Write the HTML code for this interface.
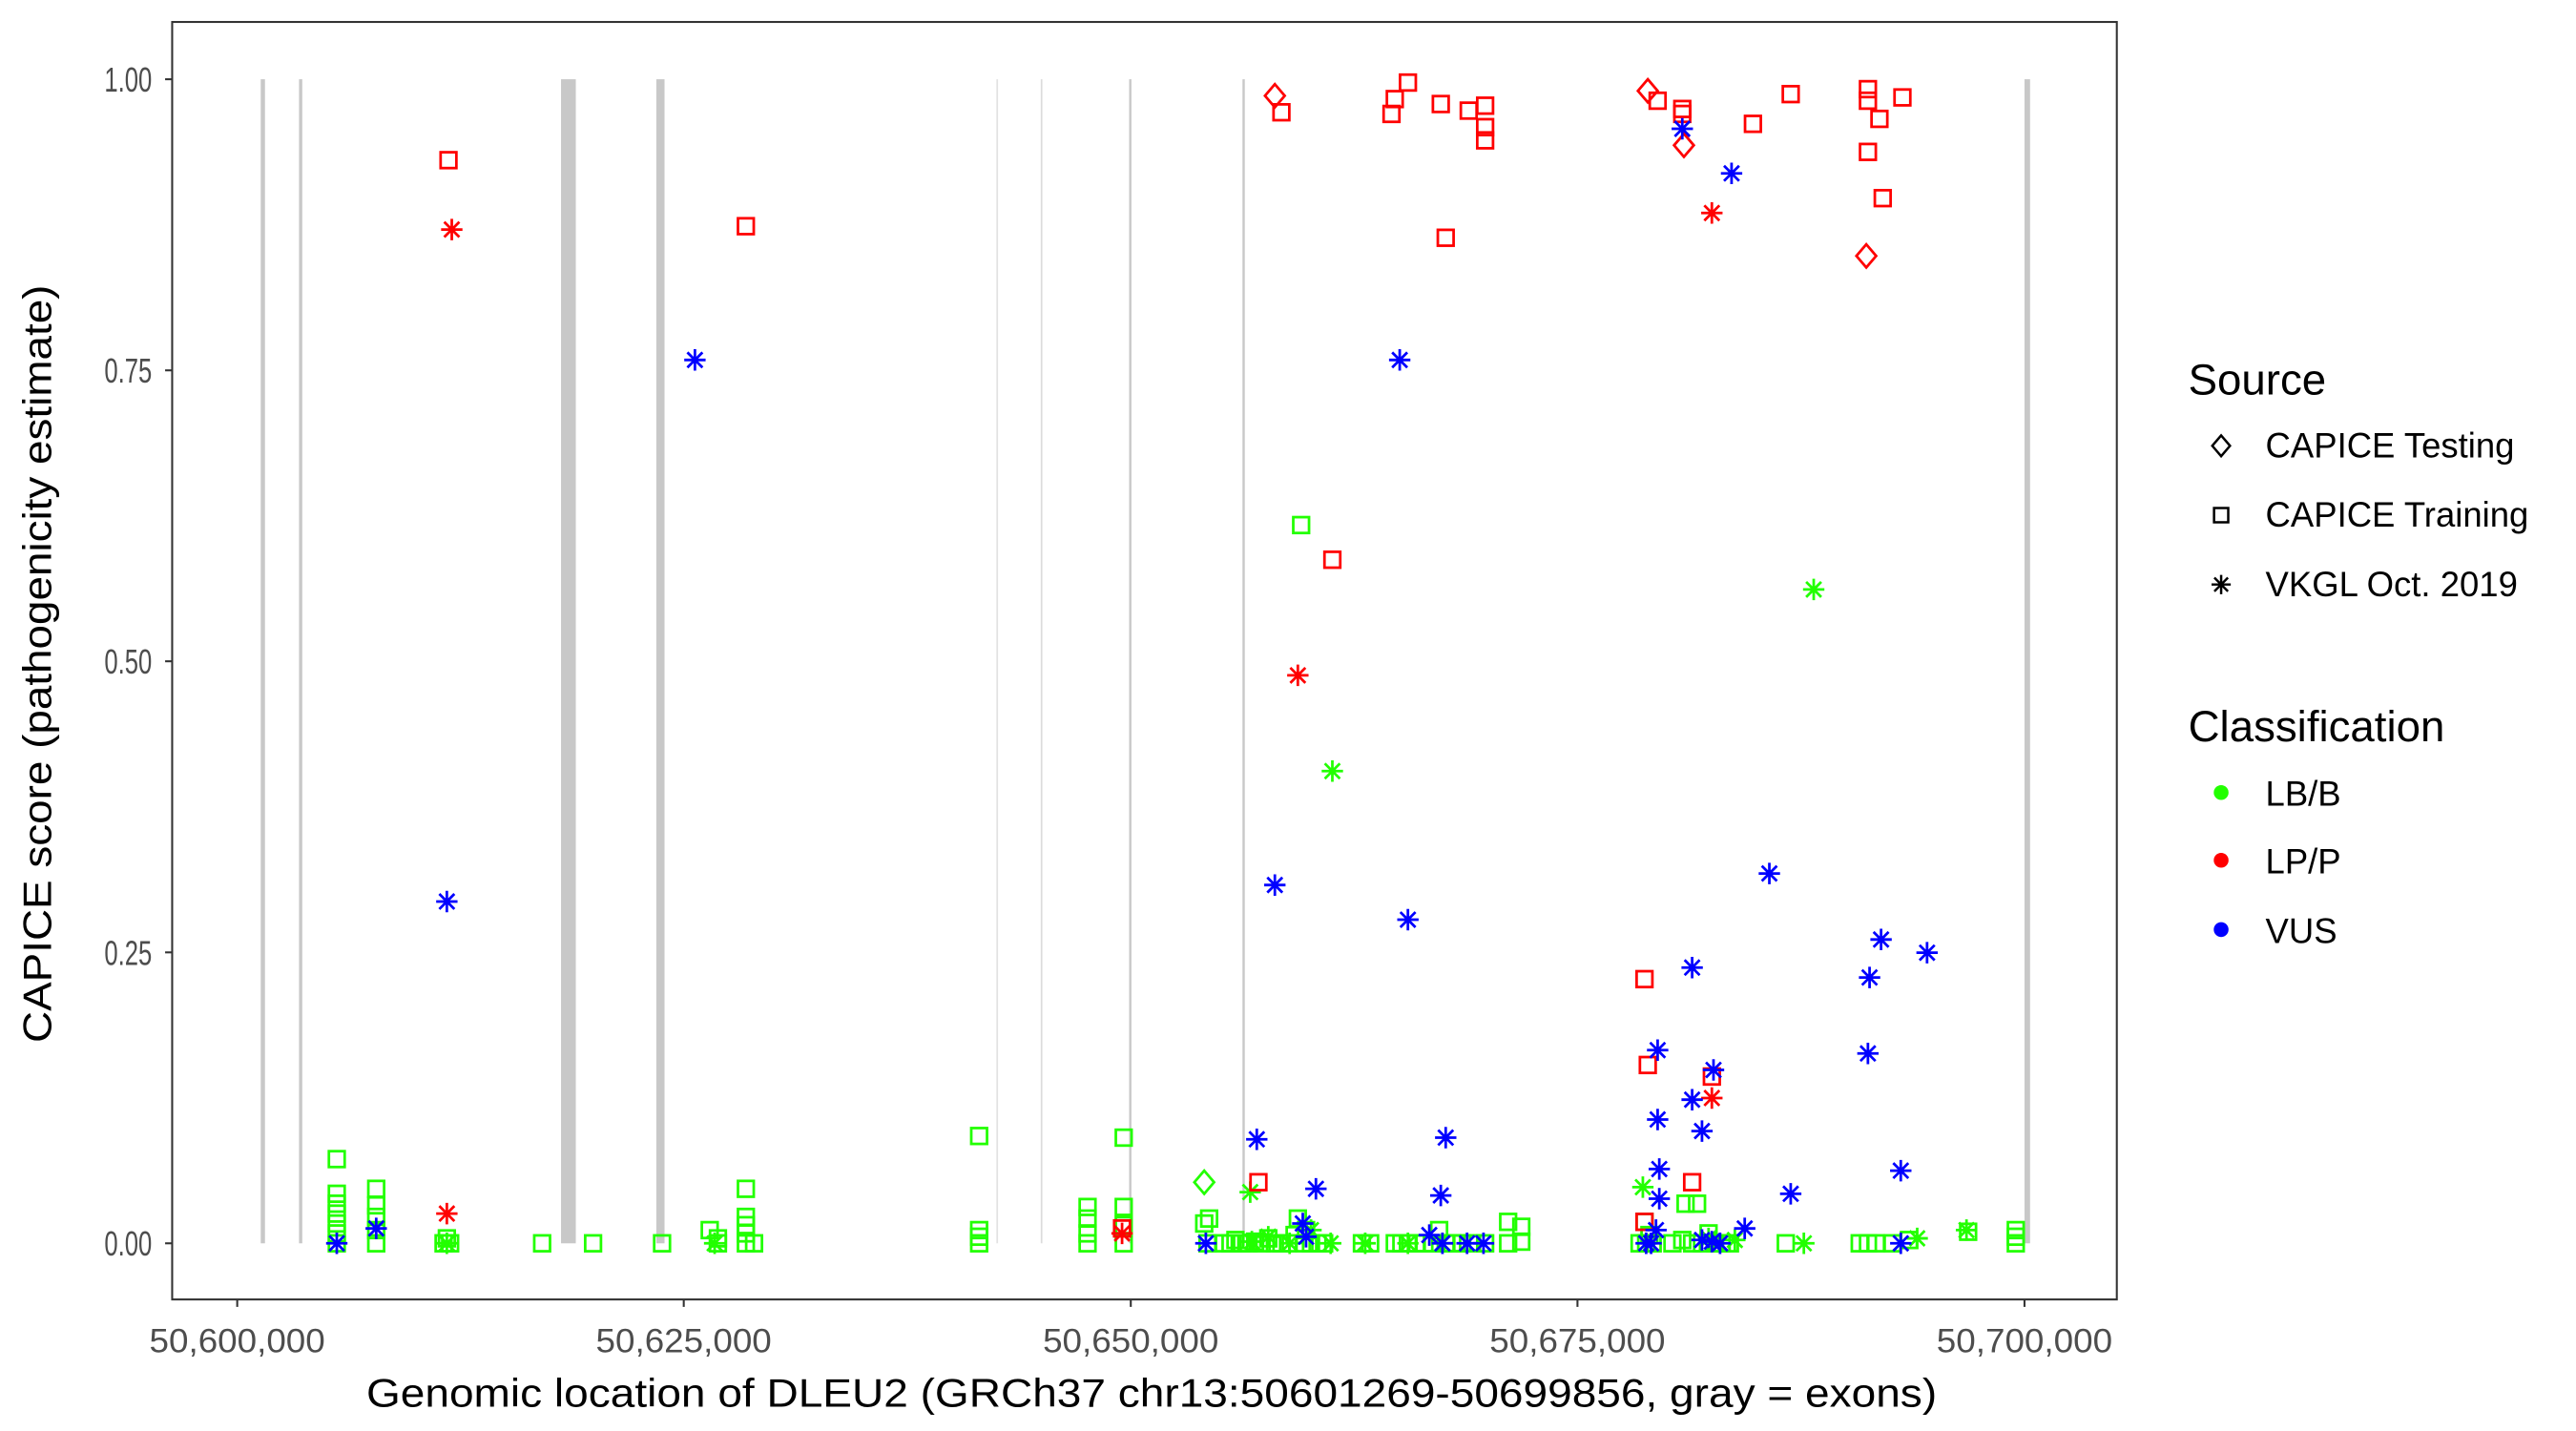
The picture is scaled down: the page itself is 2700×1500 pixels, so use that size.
<!DOCTYPE html>
<html><head><meta charset="utf-8"><style>
html,body{margin:0;padding:0;background:#fff;}
svg{display:block;}
text{font-family:"Liberation Sans",Arial,sans-serif;}
</style></head><body>
<svg width="2700" height="1500" viewBox="0 0 1568 866.67" preserveAspectRatio="none" xmlns="http://www.w3.org/2000/svg">
<defs>
<rect id="sq" x="-4.8" y="-4.8" width="9.6" height="9.6" fill="none" stroke-width="1.6"/>
<path id="as" d="M0,-6.5V6.5M-6.5,0H6.5M-4.6,-4.6L4.6,4.6M-4.6,4.6L4.6,-4.6" fill="none" stroke-width="1.6"/>
<path id="dm" d="M0,-7L6,0L0,7L-6,0Z" fill="none" stroke-width="1.6"/>
</defs>
<rect width="1568" height="867" fill="#fff"/>
<!-- exons -->
<g fill="#c8c8c8">
<rect x="158.7" y="48" width="2.6" height="705"/>
<rect x="182" y="48" width="2" height="705"/>
<rect x="341.5" y="48" width="9" height="705"/>
<rect x="399.5" y="48" width="5" height="705"/>
<rect x="606.5" y="48" width="1" height="705" fill="#e2e2e2"/>
<rect x="633.5" y="48" width="1" height="705" fill="#dcdcdc"/>
<rect x="687.3" y="48" width="1.4" height="705"/>
<rect x="756.3" y="48" width="1.4" height="705"/>
<rect x="1232.3" y="48" width="3.4" height="705"/>
</g>
<!-- green -->
<g stroke="#22ff00">
<use href="#sq" x="205" y="753"/><use href="#sq" x="205" y="747"/><use href="#sq" x="205" y="741"/><use href="#sq" x="205" y="735"/><use href="#sq" x="205" y="729"/><use href="#sq" x="205" y="723"/><use href="#sq" x="205" y="702"/>
<use href="#sq" x="229" y="753"/><use href="#sq" x="229" y="745"/><use href="#sq" x="229" y="737"/><use href="#sq" x="229" y="730"/><use href="#sq" x="229" y="720"/>
<use href="#sq" x="270" y="753"/><use href="#sq" x="274" y="753"/><use href="#sq" x="272" y="750"/>
<use href="#sq" x="330" y="753"/><use href="#sq" x="361" y="753"/><use href="#sq" x="403" y="753"/>
<use href="#sq" x="432" y="745"/><use href="#sq" x="437" y="750"/><use href="#sq" x="437" y="753"/>
<use href="#sq" x="454" y="753"/><use href="#sq" x="454" y="747"/><use href="#sq" x="454" y="742"/><use href="#sq" x="454" y="737"/><use href="#sq" x="454" y="720"/><use href="#sq" x="459" y="753"/>
<use href="#sq" x="596" y="753"/><use href="#sq" x="596" y="749"/><use href="#sq" x="596" y="745"/><use href="#sq" x="596" y="688"/>
<use href="#sq" x="662" y="753"/><use href="#sq" x="662" y="747"/><use href="#sq" x="662" y="738"/><use href="#sq" x="662" y="731"/>
<use href="#sq" x="684" y="753"/><use href="#sq" x="684" y="742"/><use href="#sq" x="684" y="731"/><use href="#sq" x="684" y="689"/>
<use href="#sq" x="733" y="741"/><use href="#sq" x="736" y="738"/><use href="#sq" x="735" y="753"/>
<use href="#sq" x="745" y="753"/><use href="#sq" x="749" y="753"/><use href="#sq" x="752" y="751"/><use href="#sq" x="756" y="753"/><use href="#sq" x="760" y="753"/><use href="#sq" x="764" y="752"/><use href="#sq" x="768" y="753"/><use href="#sq" x="772" y="750"/><use href="#sq" x="776" y="753"/><use href="#sq" x="780" y="753"/><use href="#sq" x="784" y="753"/><use href="#sq" x="788" y="748"/><use href="#sq" x="790" y="738"/><use href="#sq" x="794" y="753"/><use href="#sq" x="798" y="753"/><use href="#sq" x="802" y="753"/><use href="#sq" x="806" y="753"/><use href="#sq" x="795" y="745"/>
<use href="#sq" x="829" y="753"/><use href="#sq" x="834" y="753"/><use href="#sq" x="849" y="753"/><use href="#sq" x="853" y="753"/><use href="#sq" x="857" y="753"/><use href="#sq" x="862" y="753"/><use href="#sq" x="867" y="753"/><use href="#sq" x="872" y="753"/><use href="#sq" x="876" y="745"/><use href="#sq" x="880" y="753"/><use href="#sq" x="884" y="753"/><use href="#sq" x="890" y="753"/><use href="#sq" x="896" y="753"/><use href="#sq" x="904" y="753"/>
<use href="#sq" x="918" y="740"/><use href="#sq" x="926" y="743"/><use href="#sq" x="918" y="753"/><use href="#sq" x="926" y="752"/>
<use href="#sq" x="998" y="753"/><use href="#sq" x="1002" y="753"/><use href="#sq" x="1006" y="753"/><use href="#sq" x="1001" y="740"/><use href="#sq" x="1004" y="748"/>
<use href="#sq" x="1018" y="753"/><use href="#sq" x="1024" y="751"/><use href="#sq" x="1026" y="729"/><use href="#sq" x="1033" y="729"/><use href="#sq" x="1030" y="753"/><use href="#sq" x="1036" y="753"/><use href="#sq" x="1040" y="747"/><use href="#sq" x="1044" y="753"/><use href="#sq" x="1048" y="753"/><use href="#sq" x="1053" y="753"/>
<use href="#sq" x="1087" y="753"/><use href="#sq" x="1132" y="753"/><use href="#sq" x="1137" y="753"/><use href="#sq" x="1142" y="753"/><use href="#sq" x="1152" y="753"/><use href="#sq" x="1162" y="751"/>
<use href="#sq" x="1198" y="746"/><use href="#sq" x="1227" y="745"/><use href="#sq" x="1227" y="749"/><use href="#sq" x="1227" y="753"/>
<use href="#sq" x="792" y="318"/>
<use href="#dm" x="733" y="716"/>
<use href="#as" x="272" y="753"/><use href="#as" x="435" y="753"/><use href="#as" x="761" y="722"/><use href="#as" x="762" y="752"/><use href="#as" x="772" y="749"/><use href="#as" x="785" y="753"/><use href="#as" x="798" y="745"/><use href="#as" x="810" y="753"/><use href="#as" x="831" y="753"/><use href="#as" x="857" y="753"/><use href="#as" x="878" y="753"/>
<use href="#as" x="1000" y="719"/><use href="#as" x="1040" y="750"/><use href="#as" x="1056" y="751"/><use href="#as" x="1098" y="753"/><use href="#as" x="1167" y="750"/><use href="#as" x="1197" y="745"/>
<use href="#as" x="1104" y="357"/><use href="#as" x="811" y="467"/>
</g>
<!-- red -->
<g stroke="#ff0000">
<use href="#sq" x="273" y="97"/><use href="#sq" x="454" y="137"/><use href="#sq" x="780" y="68"/><use href="#sq" x="857" y="50"/><use href="#sq" x="849" y="60"/><use href="#sq" x="847" y="69"/><use href="#sq" x="877" y="63"/><use href="#sq" x="894" y="67"/><use href="#sq" x="904" y="64"/><use href="#sq" x="904" y="77"/><use href="#sq" x="904" y="85"/><use href="#sq" x="880" y="144"/>
<use href="#sq" x="1009" y="61"/><use href="#sq" x="1024" y="66"/><use href="#sq" x="1024" y="69"/><use href="#sq" x="1067" y="75"/><use href="#sq" x="1090" y="57"/><use href="#sq" x="1137" y="54"/><use href="#sq" x="1137" y="61"/><use href="#sq" x="1144" y="72"/><use href="#sq" x="1158" y="59"/><use href="#sq" x="1137" y="92"/><use href="#sq" x="1146" y="120"/>
<use href="#sq" x="811" y="339"/><use href="#sq" x="1001" y="593"/><use href="#sq" x="1003" y="645"/><use href="#sq" x="1042" y="652"/><use href="#sq" x="1030" y="716"/><use href="#sq" x="766" y="716"/><use href="#sq" x="1001" y="740"/><use href="#sq" x="683" y="744"/>
<use href="#dm" x="776" y="58"/><use href="#dm" x="1003" y="55"/><use href="#dm" x="1025" y="88"/><use href="#dm" x="1136" y="155"/>
<use href="#as" x="275" y="139"/><use href="#as" x="790" y="409"/><use href="#as" x="1042" y="129"/><use href="#as" x="1042" y="665"/><use href="#as" x="272" y="735"/><use href="#as" x="683" y="747"/>
</g>
<!-- blue -->
<g stroke="#0000ff">
<use href="#as" x="272" y="546"/><use href="#as" x="423" y="218"/><use href="#as" x="1024" y="78"/><use href="#as" x="1054" y="105"/><use href="#as" x="852" y="218"/>
<use href="#as" x="776" y="536"/><use href="#as" x="857" y="557"/><use href="#as" x="1077" y="529"/><use href="#as" x="1145" y="569"/><use href="#as" x="1173" y="577"/><use href="#as" x="1138" y="592"/><use href="#as" x="1137" y="638"/>
<use href="#as" x="1030" y="586"/><use href="#as" x="1009" y="636"/><use href="#as" x="1043" y="648"/><use href="#as" x="1009" y="678"/><use href="#as" x="1030" y="666"/><use href="#as" x="1036" y="685"/><use href="#as" x="1010" y="708"/><use href="#as" x="1010" y="726"/>
<use href="#as" x="1157" y="709"/><use href="#as" x="1090" y="723"/><use href="#as" x="1062" y="744"/><use href="#as" x="1008" y="745"/><use href="#as" x="1002" y="753"/><use href="#as" x="1005" y="753"/><use href="#as" x="1036" y="751"/><use href="#as" x="1042" y="752"/><use href="#as" x="1047" y="753"/><use href="#as" x="1157" y="753"/>
<use href="#as" x="765" y="690"/><use href="#as" x="880" y="689"/><use href="#as" x="801" y="720"/><use href="#as" x="877" y="724"/><use href="#as" x="793" y="741"/><use href="#as" x="795" y="749"/><use href="#as" x="870" y="748"/><use href="#as" x="878" y="753"/><use href="#as" x="893" y="753"/><use href="#as" x="903" y="753"/>
<use href="#as" x="205" y="753"/><use href="#as" x="229" y="744"/><use href="#as" x="734" y="753"/>
</g>
<!-- panel -->
<rect x="104.8" y="13.3" width="1183.7" height="773.7" fill="none" stroke="#333" stroke-width="1.2"/>
<g stroke="#333" stroke-width="1.2">
<line x1="100.5" y1="48" x2="104.8" y2="48"/><line x1="100.5" y1="224.3" x2="104.8" y2="224.3"/><line x1="100.5" y1="400.5" x2="104.8" y2="400.5"/><line x1="100.5" y1="576.8" x2="104.8" y2="576.8"/><line x1="100.5" y1="753" x2="104.8" y2="753"/>
<line x1="144.4" y1="787" x2="144.4" y2="791.5"/><line x1="416.2" y1="787" x2="416.2" y2="791.5"/><line x1="688.3" y1="787" x2="688.3" y2="791.5"/><line x1="960.2" y1="787" x2="960.2" y2="791.5"/><line x1="1232.3" y1="787" x2="1232.3" y2="791.5"/>
</g>
<g fill="#4d4d4d" font-size="21" text-anchor="end">
<text x="92.5" y="55.5" textLength="29" lengthAdjust="spacingAndGlyphs">1.00</text><text x="92.5" y="231.8" textLength="29" lengthAdjust="spacingAndGlyphs">0.75</text><text x="92.5" y="408" textLength="29" lengthAdjust="spacingAndGlyphs">0.50</text><text x="92.5" y="584.3" textLength="29" lengthAdjust="spacingAndGlyphs">0.25</text><text x="92.5" y="760.5" textLength="29" lengthAdjust="spacingAndGlyphs">0.00</text>
</g>
<g fill="#4d4d4d" font-size="20.5" text-anchor="middle">
<text x="144.4" y="819" textLength="107" lengthAdjust="spacingAndGlyphs">50,600,000</text><text x="416.2" y="819" textLength="107" lengthAdjust="spacingAndGlyphs">50,625,000</text><text x="688.3" y="819" textLength="107" lengthAdjust="spacingAndGlyphs">50,650,000</text><text x="960.2" y="819" textLength="107" lengthAdjust="spacingAndGlyphs">50,675,000</text><text x="1232.3" y="819" textLength="107" lengthAdjust="spacingAndGlyphs">50,700,000</text>
</g>
<text x="701" y="852" font-size="24" text-anchor="middle" textLength="956" lengthAdjust="spacingAndGlyphs">Genomic location of DLEU2 (GRCh37 chr13:50601269-50699856, gray = exons)</text>
<text transform="translate(31,402) rotate(-90)" font-size="24" text-anchor="middle" textLength="459" lengthAdjust="spacingAndGlyphs">CAPICE score (pathogenicity estimate)</text>
<!-- legend -->
<text x="1332" y="239" font-size="26.5">Source</text>
<g stroke="#000">
<use href="#dm" x="1352" y="270" transform="translate(1352,270) scale(0.9) translate(-1352,-270)"/>
<use href="#sq" x="1352" y="312" transform="translate(1352,312) scale(0.9) translate(-1352,-312)"/>
<use href="#as" x="1352" y="354" transform="translate(1352,354) scale(0.9) translate(-1352,-354)"/>
</g>
<g font-size="21.2">
<text x="1379" y="277">CAPICE Testing</text><text x="1379" y="319">CAPICE Training</text><text x="1379" y="361">VKGL Oct. 2019</text>
</g>
<text x="1332" y="449" font-size="26.5">Classification</text>
<circle cx="1352" cy="480" r="4.5" fill="#22ff00"/><circle cx="1352" cy="521" r="4.5" fill="#ff0000"/><circle cx="1352" cy="563" r="4.5" fill="#0000ff"/>
<g font-size="21.2">
<text x="1379" y="488">LB/B</text><text x="1379" y="529">LP/P</text><text x="1379" y="571">VUS</text>
</g>
</svg>
</body></html>
